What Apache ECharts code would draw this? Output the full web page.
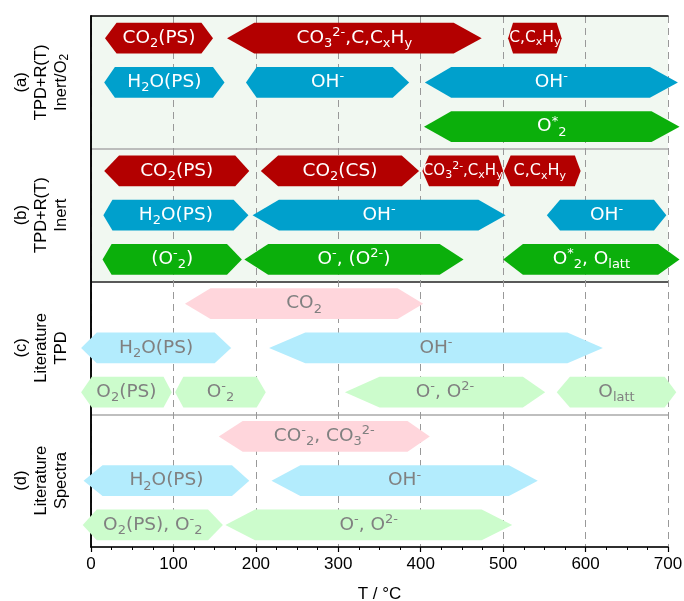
<!DOCTYPE html>
<html><head><meta charset="utf-8">
<script src="https://cdn.jsdelivr.net/npm/echarts@6/dist/echarts.min.js"></script>
<style>html,body{margin:0;padding:0;background:#fff}#c{width:684px;height:601px}</style>
</head><body><div id="c"></div>
<script>
// ---- DATA ----
const rowNames = ['a1','a2','a3','b1','b2','b3','c1','c2','c3','d1','d2','d3'];
const panelTitles = [
  '(a)\nTPD+R(T)\nInert/O{b|2}',
  '(b)\nTPD+R(T)\nInert',
  '(c)\nLiterature\nTPD',
  '(d)\nLiterature\nSpectra'
];
const xTickValues = [0, 100, 200, 300, 400, 500, 600, 700];
// [row, tipStart(°C), bodyStart, bodyEnd, tipEnd, label]
const panelA = [
  [0, 17, 31, 134, 148, 'CO{b|2}(PS)'],
  [0, 165, 198, 440, 474, 'CO{b|3}{p|2-},C,C{b|x}H{b|y}'],
  [0, 506, 512, 565, 571, 'C,C{b|x}H{b|y}'],
  [1, 16, 29, 148, 162, 'H{b|2}O(PS)'],
  [1, 188, 201, 366, 386, 'OH{p|-}'],
  [1, 405, 437, 678, 712, 'OH{p|-}'],
  [2, 404, 437, 680, 714, 'O{p|*}{b|2}']
];
const panelB = [
  [3, 16, 34, 175, 192, 'CO{b|2}(PS)'],
  [3, 206, 227, 377, 398, 'CO{b|2}(CS)'],
  [3, 402, 410, 494, 500, 'CO{b|3}{p|2-},C{b|x}H{b|y}'],
  [3, 501, 509, 587, 594, 'C,C{b|x}H{b|y} '],
  [4, 15, 26, 173, 191, 'H{b|2}O(PS)'],
  [4, 196, 228, 470, 503, 'OH{p|-}'],
  [4, 553, 569, 683, 698, 'OH{p|-}'],
  [5, 14, 25, 165, 183, '(O{p|-}{b|2})'],
  [5, 186, 215, 423, 452, 'O{p|-}, (O{p|2-})'],
  [5, 500, 524, 688, 714, 'O{p|*}{b|2}, O{b|latt}']
];
const panelC = [
  [6, 114, 145, 372, 403, 'CO{b|2}'],
  [7, -12, 7, 150, 170, 'H{b|2}O(PS)'],
  [7, 216, 260, 578, 621, 'OH{p|-}'],
  [8, -12, 1, 88, 98, 'O{b|2}(PS)'],
  [8, 102, 112, 201, 212, 'O{p|-}{b|2}'],
  [8, 308, 350, 524, 551, 'O{p|-}, O{p|2-}'],
  [8, 565, 581, 696, 710, 'O{b|latt}']
];
const panelD = [
  [9, 155, 184, 384, 411, 'CO{p|-}{b|2}, CO{b|3}{p|2-}'],
  [10, -9, 14, 171, 192, 'H{b|2}O(PS)'],
  [10, 219, 254, 507, 542, 'OH{p|-}'],
  [11, -10, 7, 142, 160, 'O{b|2}(PS), O{p|-}{b|2}'],
  [11, 163, 199, 474, 511, 'O{p|-}, O{p|2-}']
];

// ---- STYLE ----
const darkColors = ['#b30000', '#00a0cc', '#0baf0b'];
const lightColors = ['#ffd6dc', '#b3ecfd', '#ccfccc'];
const smallLabelSize = {
  'CO{b|3}{p|2-},C{b|x}H{b|y}': 15,
  'C,C{b|x}H{b|y}': 15.5,
  'C,C{b|x}H{b|y} ': 16
};
const G = {left: 91, right: 16, top: 16, bottom: 54};
const W = 684, H = 601;

function richFor(size) {
  const s = Math.round(size * 0.7);
  return {
    b: {fontSize: s, fontFamily: 'DejaVu Sans', lineHeight: s, verticalAlign: 'bottom'},
    p: {fontSize: s, fontFamily: 'DejaVu Sans', lineHeight: s, verticalAlign: 'top'}
  };
}

function makeSeries(arr) {
  return {
    type: 'custom',
    xAxisIndex: 0, yAxisIndex: 0,
    data: arr.map(d => d.slice(0, 5)),
    encode: {x: [1, 2, 3, 4], y: 0},
    z: 5,
    renderItem: function (params, api) {
      const row = api.value(0);
      const item = arr[params.dataIndex];
      const yc = api.coord([0, row])[1];
      const h = api.size([0, 1])[1] * 0.7;
      const xs = [1, 2, 3, 4].map(i => api.coord([api.value(i), row])[0]);
      const light = row >= 6;
      const color = (light ? lightColors : darkColors)[row % 3];
      const size = smallLabelSize[item[5]] || 18.5;
      const pts = [
        [xs[0], yc], [xs[1], yc - h / 2], [xs[2], yc - h / 2],
        [xs[3], yc], [xs[2], yc + h / 2], [xs[1], yc + h / 2]
      ];
      return {
        type: 'group',
        children: [
          {type: 'polygon', shape: {points: pts}, style: {fill: color}},
          {type: 'text', x: (xs[0] + xs[3]) / 2, y: yc, z2: 10,
            style: {
              text: item[5], fill: light ? '#808080' : '#ffffff',
              fontSize: size, fontFamily: 'DejaVu Sans',
              lineHeight: Math.round(size * 1.3),
              align: 'center', verticalAlign: 'middle',
              rich: richFor(size)
            }}
        ]
      };
    }
  };
}

const chart = echarts.init(document.getElementById('c'), null, {renderer: 'canvas'});
const plotH = H - G.top - G.bottom;
const mint = '#f1f8f1';
const areaColors = rowNames.map((r, i) => i < 6 ? mint : '#ffffff');

const titleGraphics = panelTitles.map((t, i) => ({
  type: 'text',
  x: 41, y: G.top + plotH * (i + 0.5) / 4,
  rotation: Math.PI / 2,
  style: {
    text: t, fill: '#000', fontSize: 16.5, fontFamily: 'Liberation Sans',
    lineHeight: 20, align: 'center', verticalAlign: 'middle',
    rich: {b: {fontSize: 12, fontFamily: 'Liberation Sans', lineHeight: 12, verticalAlign: 'bottom'}}
  }
}));

chart.setOption({
  animation: false,
  backgroundColor: '#ffffff',
  grid: {left: G.left, right: G.right, top: G.top, bottom: G.bottom, containLabel: false, outerBoundsMode: 'none'},
  graphic: titleGraphics,
  xAxis: [{
    type: 'value', min: 0, max: 700, interval: 100, position: 'bottom',
    axisLine: {show: true, lineStyle: {color: '#000', width: 1.5}},
    axisTick: {show: true, inside: false, length: 5, lineStyle: {color: '#000', width: 1.2}},
    minorTick: {show: true, splitNumber: 4, length: 3, lineStyle: {color: '#000', width: 1}},
    minorSplitLine: {show: false},
    axisLabel: {fontSize: 17, color: '#000', fontFamily: 'Liberation Sans', margin: 9,
      formatter: v => xTickValues.includes(v) ? String(v) : ''},
    splitLine: {show: true, lineStyle: {type: [7, 5], color: '#999', width: 1}},
    name: 'T / °C', nameLocation: 'middle', nameGap: 39,
    nameTextStyle: {fontSize: 17, color: '#000', fontFamily: 'Liberation Sans'}
  }, {
    type: 'value', min: 0, max: 700, position: 'top',
    axisLine: {show: true, lineStyle: {color: '#000', width: 1.5}},
    axisTick: {show: false}, axisLabel: {show: false}, splitLine: {show: false}
  }],
  yAxis: [{
    type: 'category', data: rowNames, inverse: true,
    axisLine: {show: true, lineStyle: {color: '#000', width: 1.5}},
    axisTick: {show: false}, axisLabel: {show: false},
    splitLine: {show: true, interval: (i) => i === 3 || i === 6 || i === 9,
      lineStyle: {color: ['#aaaaaa', '#222222', '#aaaaaa'], width: 1.5}},
    splitArea: {show: true, interval: 0, areaStyle: {color: areaColors}}
  }, {
    type: 'category', data: rowNames, inverse: true, position: 'right',
    axisLine: {show: true, lineStyle: {color: '#000', width: 1.5}},
    axisTick: {show: false}, axisLabel: {show: false}, splitLine: {show: false}
  }],
  series: [makeSeries(panelA), makeSeries(panelB), makeSeries(panelC), makeSeries(panelD)]
});
</script>
</body></html>
